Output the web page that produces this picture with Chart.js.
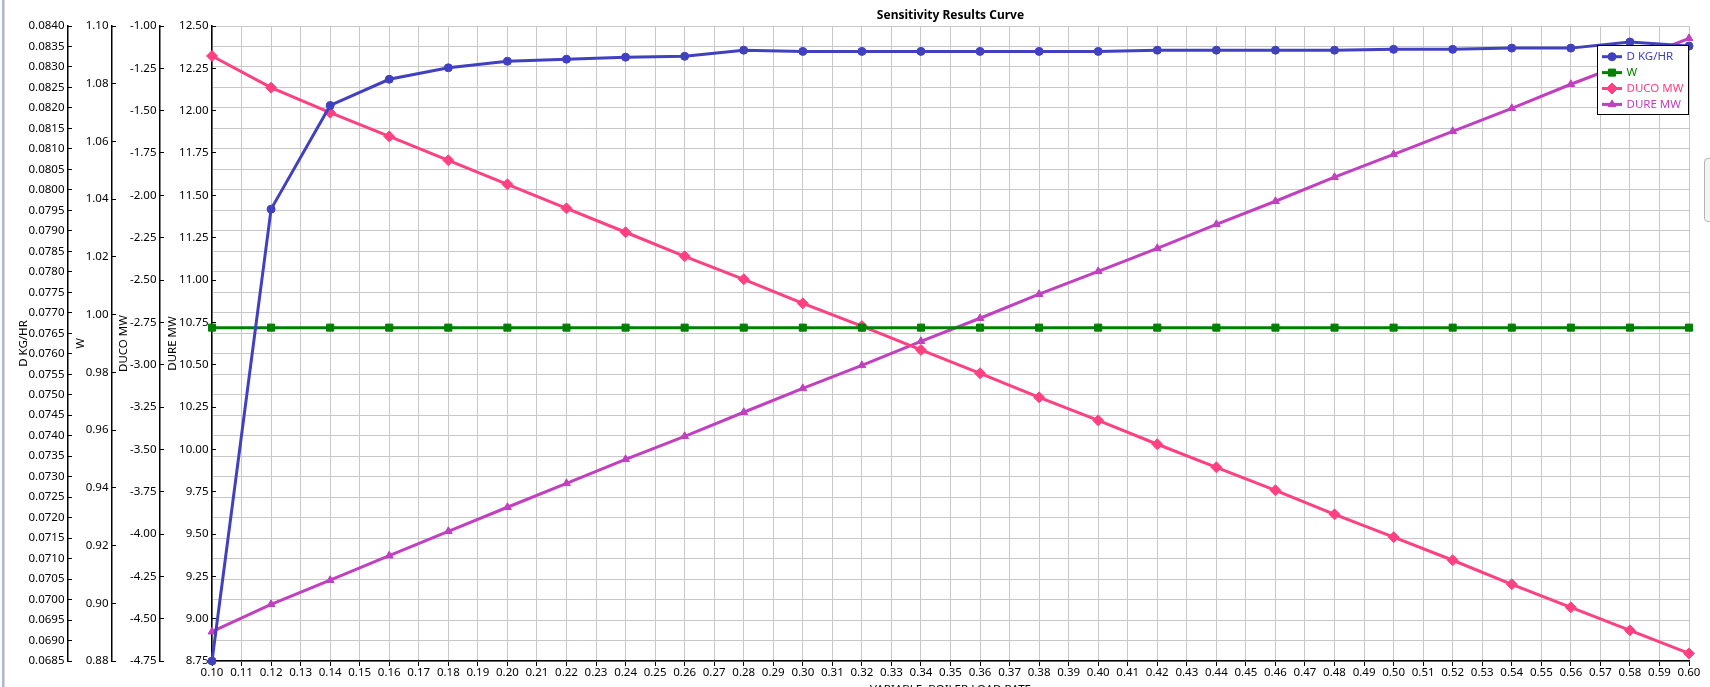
<!DOCTYPE html>
<html>
<head>
<meta charset="utf-8">
<title>Sensitivity Results Curve</title>
<script src="https://cdn.jsdelivr.net/npm/chart.js@4.4.1/dist/chart.umd.min.js"></script>
<style>
html,body{margin:0;padding:0;background:#fff;overflow:hidden;width:1710px;height:687px;}
#wrap{position:absolute;left:0;top:0;width:1710px;height:700px;}
#c{display:block;}
#lb{position:absolute;left:2px;top:0;width:2px;height:687px;background:#a9bcd6;z-index:2;}
#lb2{position:absolute;left:4px;top:0;width:1px;height:687px;background:#d4d4d4;z-index:2;}
#tab{position:absolute;left:1704px;top:158px;width:10px;height:62px;border:1px solid #b4b4b4;border-radius:4px;background:#f4f4f4;z-index:2;}
</style>
</head>
<body>
<div id="wrap"><canvas id="c" width="1710" height="700" style="width:1710px;height:700px;"></canvas></div>
<div id="lb"></div><div id="lb2"></div><div id="tab"></div>
<script>
// ---------------- data ----------------
const xValues = [0.10,0.12,0.14,0.16,0.18,0.20,0.22,0.24,0.26,0.28,0.30,0.32,0.34,0.36,0.38,0.40,0.42,0.44,0.46,0.48,0.50,0.52,0.54,0.56,0.58,0.60];
const dKgHr  = [0.0685,0.07953,0.08206,0.08270,0.08298,0.08314,0.08319,0.08324,0.08326,0.08341,0.08338,0.08338,0.08338,0.08338,0.08338,0.08338,0.08341,0.08341,0.08341,0.08341,0.08343,0.08343,0.08346,0.08346,0.08361,0.08351];
const wValues = [0.9955,0.9955,0.9955,0.9955,0.9955,0.9955,0.9955,0.9955,0.9955,0.9955,0.9955,0.9955,0.9955,0.9955,0.9955,0.9955,0.9955,0.9955,0.9955,0.9955,0.9955,0.9955,0.9955,0.9955,0.9955,0.9955];
const ducoMw = [-1.177,-1.364,-1.512,-1.652,-1.793,-1.935,-2.077,-2.218,-2.360,-2.496,-2.638,-2.772,-2.913,-3.051,-3.193,-3.329,-3.470,-3.606,-3.742,-3.884,-4.019,-4.155,-4.297,-4.433,-4.569,-4.705];
const dureMw = [8.923,9.085,9.227,9.372,9.516,9.658,9.799,9.941,10.077,10.219,10.360,10.496,10.638,10.774,10.916,11.051,11.187,11.329,11.465,11.607,11.742,11.878,12.014,12.156,12.289,12.427];

const seriesNames = ['D KG/HR','W','DUCO MW','DURE MW'];
const chartTitle = 'Sensitivity Results Curve';
const xAxisTitle = 'VARIABLE: BOILER LOAD RATE';

// axis ranges (min, max, step)
const xRange    = [0.10, 0.60, 0.01];
const dRange    = [0.0685, 0.0840, 0.0005];
const wRange    = [0.88, 1.10, 0.02];
const ducoRange = [-4.75, -1.00, 0.25];
const dureRange = [8.75, 12.50, 0.25];

// ---------------- styles ----------------
const colors = ['#4040c0','#008000','#ff4081','#c040c0'];
const pointStyles = ['circle','rect','rectRot','triangle'];
const pointRadii = [4,5,5.5,4.5];
const FONT = '"Noto Sans", "Open Sans", sans-serif';
Chart.defaults.font.family = FONT;
Chart.defaults.font.size = 11.5;
Chart.defaults.color = '#000';

const pairs = (ys) => xValues.map((x, i) => ({x: x, y: ys[i]}));
const seriesData = [dKgHr, wValues, ducoMw, dureMw];
const axisIds = ['yD','yW','yDUCO','yDURE'];

const datasets = seriesNames.map((name, i) => ({
  label: name,
  data: pairs(seriesData[i]),
  yAxisID: axisIds[i],
  borderColor: colors[i],
  backgroundColor: colors[i],
  pointBackgroundColor: colors[i],
  pointBorderColor: colors[i],
  pointStyle: pointStyles[i],
  pointRadius: pointRadii[i],
  pointBorderWidth: 1,
  borderWidth: 3,
  tension: 0,
  fill: false,
  clip: false
}));

function leftAxis(title, range, dec, width, weight, titlePad, showGrid) {
  return {
    type: 'linear', position: 'left',
    min: range[0], max: range[1], weight: weight,
    ticks: { stepSize: range[2], autoSkip: false, padding: 7.5, color: '#000',
             callback: (v) => Number(v).toFixed(dec) },
    grid: { display: true, drawOnChartArea: showGrid, color: '#c8c8c8', lineWidth: 1,
            tickLength: -4, tickColor: '#000', tickWidth: 1 },
    border: { display: true, color: '#000', width: 1.5 },
    title: { display: true, text: title, color: '#000', padding: { top: titlePad, bottom: 0 } },
    afterFit(s) { s.width = width; }
  };
}

const boxLegend = {
  id: 'boxLegend',
  afterDraw(chart) {
    const ctx = chart.ctx, area = chart.chartArea;
    const w = 92, h = 70;
    const left = area.right - w, top = area.top + 19;
    ctx.save();
    ctx.fillStyle = '#fff';
    ctx.fillRect(left, top, w, h);
    ctx.strokeStyle = '#000';
    ctx.lineWidth = 1;
    ctx.strokeRect(left + 0.5, top + 0.5, w - 1, h - 1);
    ctx.font = '11.5px ' + FONT;
    ctx.textBaseline = 'middle';
    ctx.textAlign = 'left';
    chart.data.datasets.forEach((ds, i) => {
      const y = top + 11.7 + i * 15.9;
      ctx.strokeStyle = ds.borderColor;
      ctx.fillStyle = ds.borderColor;
      ctx.lineWidth = 3;
      ctx.beginPath();
      ctx.moveTo(left + 5, y);
      ctx.lineTo(left + 25, y);
      ctx.stroke();
      ctx.lineWidth = 1;
      if (Chart.helpers && Chart.helpers.drawPoint) {
        Chart.helpers.drawPoint(ctx, { pointStyle: ds.pointStyle, radius: ds.pointRadius, rotation: 0, borderWidth: 1 }, left + 15, y);
      }
      ctx.fillStyle = ds.borderColor;
      ctx.fillText(ds.label, left + 29.5, y + 0.5);
    });
    ctx.restore();
  }
};

new Chart(document.getElementById('c'), {
  type: 'line',
  data: { datasets: datasets },
  options: {
    responsive: false,
    animation: false,
    layout: { padding: { left: 0, right: 21, top: 0, bottom: 0 } },
    plugins: {
      legend: { display: false },
      tooltip: { enabled: false },
      title: { display: true, text: chartTitle, fullSize: false, color: '#000',
               font: { size: 12, weight: 'bold' }, padding: { top: 8.8, bottom: 2.8 } }
    },
    scales: {
      x: {
        type: 'linear', position: 'bottom',
        min: xRange[0], max: xRange[1],
        ticks: { stepSize: xRange[2], autoSkip: false, maxRotation: 0, minRotation: 0, padding: 0, color: '#000',
                 callback: (v) => Number(v).toFixed(2) },
        grid: { color: '#c8c8c8', lineWidth: 1, tickLength: 5, tickColor: '#000', tickWidth: 1 },
        border: { display: true, color: '#000', width: 1.5 },
        title: { display: true, text: xAxisTitle, color: '#000', padding: { top: 0, bottom: 3 } },
        afterFit(s) { s.height = 39; }
      },
      yD:    leftAxis('D KG/HR', dRange, 4, 68, 4, 17.1, true),
      yW:    leftAxis('W', wRange, 2, 44, 3, 6.1, false),
      yDUCO: leftAxis('DUCO MW', ducoRange, 2, 48, 2, 4.6, false),
      yDURE: leftAxis('DURE MW', dureRange, 2, 52, 1, 5.6, false)
    }
  },
  plugins: [boxLegend]
});
</script>
</body>
</html>
